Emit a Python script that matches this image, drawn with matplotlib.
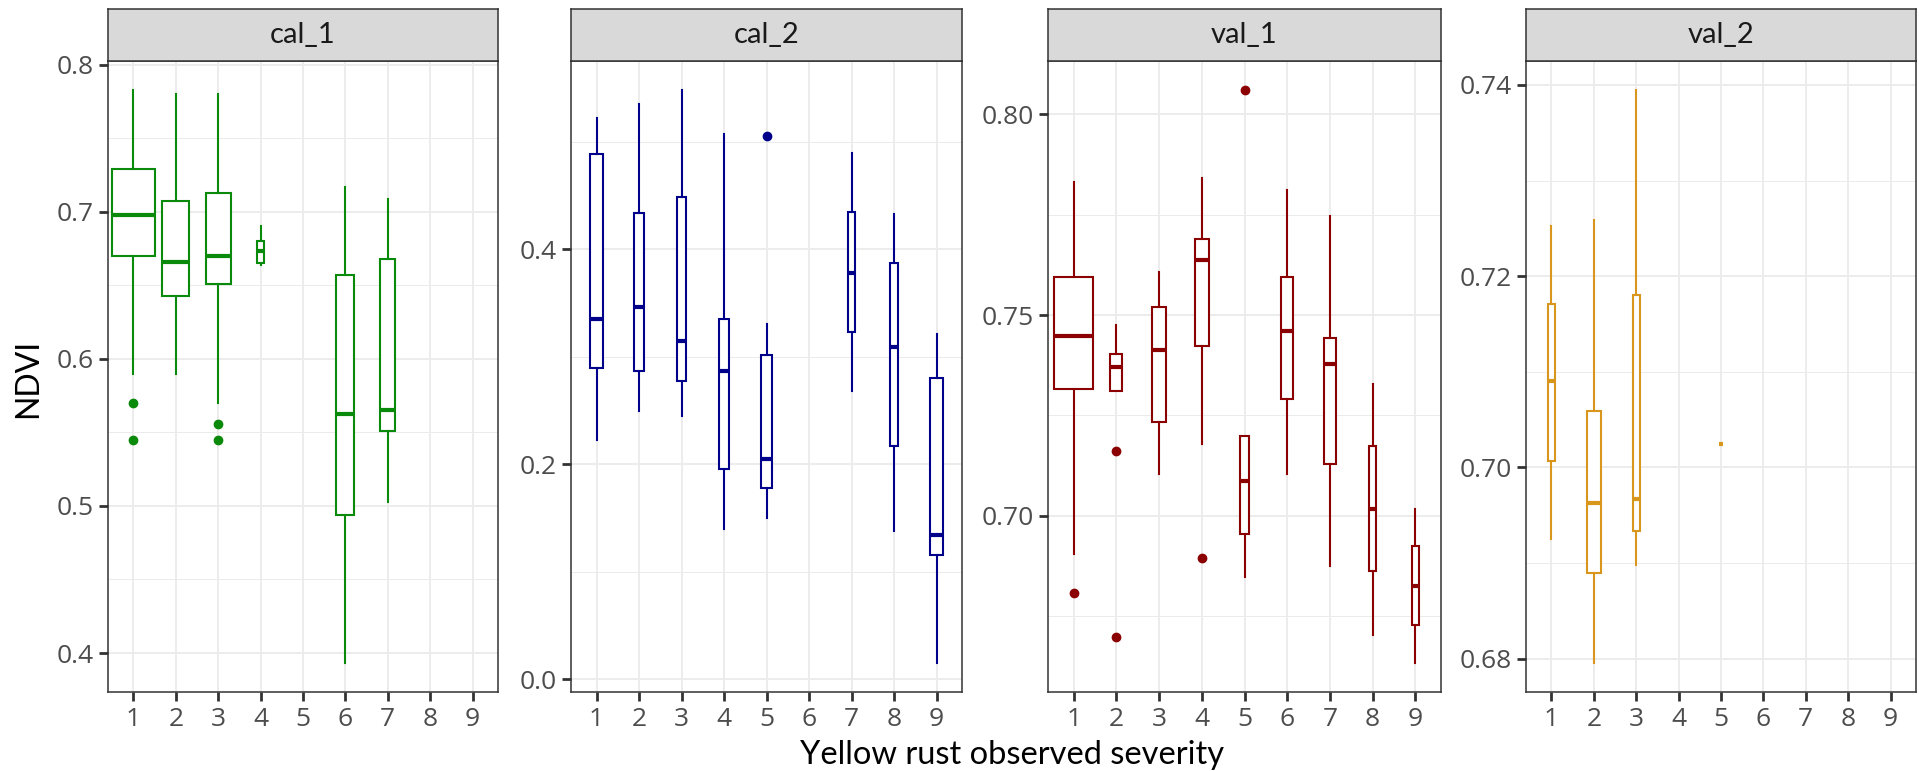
import matplotlib.pyplot as plt
import numpy as np
from matplotlib.ticker import MultipleLocator, FormatStrFormatter

plt.rcParams["font.family"] = ["Open Sans", "DejaVu Sans"]

severity = [1, 2, 3, 4, 5, 6, 7, 8, 9]
panels = ["cal_1", "cal_2", "val_1", "val_2"]
colors = ["#0A8A0A", "#00008B", "#8B0000", "#D8971C"]

# cal_1
cal1_sev = [1, 2, 3, 4, 6, 7]
cal1_lo = [0.590, 0.590, 0.570, 0.664, 0.393, 0.503]
cal1_q1 = [0.670, 0.643, 0.651, 0.665, 0.494, 0.551]
cal1_med = [0.698, 0.666, 0.670, 0.673, 0.5625, 0.565]
cal1_q3 = [0.729, 0.707, 0.713, 0.680, 0.657, 0.668]
cal1_hi = [0.783, 0.780, 0.780, 0.690, 0.717, 0.709]
cal1_n = [123, 49, 43, 4, 22, 16]
cal1_out = [[0.570, 0.545], [], [0.556, 0.5445], [], [], []]

# cal_2
cal2_sev = [1, 2, 3, 4, 5, 7, 8, 9]
cal2_lo = [0.223, 0.250, 0.245, 0.140, 0.150, 0.268, 0.1385, 0.015]
cal2_q1 = [0.290, 0.287, 0.278, 0.196, 0.178, 0.323, 0.217, 0.116]
cal2_med = [0.335, 0.3465, 0.315, 0.287, 0.205, 0.3785, 0.309, 0.134]
cal2_q3 = [0.489, 0.434, 0.4485, 0.335, 0.302, 0.435, 0.387, 0.280]
cal2_hi = [0.5225, 0.535, 0.5486, 0.507, 0.331, 0.490, 0.4325, 0.321]
cal2_n = [10, 8, 6, 8, 8, 3, 5, 11]
cal2_out = [[], [], [], [], [0.5056], [], [], []]

# val_1
val1_sev = [1, 2, 3, 4, 5, 6, 7, 8, 9]
val1_lo = [0.6905, 0.731, 0.7104, 0.718, 0.6847, 0.7104, 0.6875, 0.6704, 0.6633]
val1_q1 = [0.7316, 0.731, 0.7233, 0.7422, 0.6955, 0.7291, 0.7129, 0.6862, 0.6728]
val1_med = [0.7447, 0.737, 0.7414, 0.7636, 0.7086, 0.7461, 0.7379, 0.7016, 0.6826]
val1_q3 = [0.7594, 0.7404, 0.752, 0.7689, 0.720, 0.7594, 0.7443, 0.7174, 0.6924]
val1_hi = [0.7832, 0.7475, 0.7608, 0.7842, 0.720, 0.7812, 0.7747, 0.7328, 0.7018]
val1_n = [104, 10, 12, 14, 6, 9, 10, 3, 3]
val1_out = [[0.6807], [0.7162, 0.6698], [], [0.6896], [0.8061], [], [], [], []]

# val_2
val2_sev = [1, 2, 3, 5]
val2_lo = [0.6925, 0.6795, 0.6898, 0.7024]
val2_q1 = [0.7007, 0.6889, 0.6933, 0.7024]
val2_med = [0.709, 0.6963, 0.6967, 0.7024]
val2_q3 = [0.7171, 0.7059, 0.718, 0.7024]
val2_hi = [0.7252, 0.7259, 0.7395, 0.7024]
val2_n = [3, 14, 3, 1]
val2_out = [[], [], [], []]

data = [
    (cal1_sev, cal1_lo, cal1_q1, cal1_med, cal1_q3, cal1_hi, cal1_n, cal1_out),
    (cal2_sev, cal2_lo, cal2_q1, cal2_med, cal2_q3, cal2_hi, cal2_n, cal2_out),
    (val1_sev, val1_lo, val1_q1, val1_med, val1_q3, val1_hi, val1_n, val1_out),
    (val2_sev, val2_lo, val2_q1, val2_med, val2_q3, val2_hi, val2_n, val2_out),
]
y_steps = [0.1, 0.2, 0.05, 0.02]
y_fmt = ["%.1f", "%.1f", "%.2f", "%.2f"]

W, H = 1919, 771
panel_px = [(108, 498), (571, 962), (1048, 1441), (1526, 1916)]
p_top, p_bot, s_top = 61, 692, 9

fig = plt.figure(figsize=(W / 100, H / 100), dpi=100)

for i, (name, col) in enumerate(zip(panels, colors)):
    sev, lo, q1, med, q3, hi, n, out = data[i]
    l, r = panel_px[i]
    ax = fig.add_axes([l / W, (H - p_bot) / H, (r - l) / W, (p_bot - p_top) / H])

    stats = [
        dict(whislo=a, q1=b, med=c, q3=d, whishi=e, fliers=f)
        for a, b, c, d, e, f in zip(lo, q1, med, q3, hi, out)
    ]
    widths = 0.09 * np.sqrt(n)
    ax.bxp(
        stats,
        positions=sev,
        widths=widths,
        showcaps=False,
        patch_artist=True,
        manage_ticks=False,
        zorder=3,
        boxprops=dict(facecolor="white", edgecolor=col, linewidth=1.5),
        medianprops=dict(color=col, linewidth=3.0, solid_capstyle="butt"),
        whiskerprops=dict(color=col, linewidth=1.5),
        flierprops=dict(marker="o", markerfacecolor=col, markeredgecolor=col,
                        markersize=6, linestyle="none"),
    )

    # ggplot-style 5% expansion of the data range
    allv = list(lo) + list(hi) + [v for o in out for v in o]
    vmin, vmax = min(allv), max(allv)
    pad = 0.05 * (vmax - vmin)
    ax.set_ylim(vmin - pad, vmax + pad)
    ax.set_xlim(0.4, 9.6)
    ax.set_xticks(severity)
    ax.yaxis.set_major_locator(MultipleLocator(y_steps[i]))
    ax.yaxis.set_minor_locator(MultipleLocator(y_steps[i] / 2))
    ax.yaxis.set_major_formatter(FormatStrFormatter(y_fmt[i]))

    ax.set_axisbelow(True)
    ax.grid(which="major", color="#EBEBEB", linewidth=1.3)
    ax.grid(which="minor", axis="y", color="#EBEBEB", linewidth=0.7)
    for sp in ax.spines.values():
        sp.set_color("#333333")
        sp.set_linewidth(1.1)
    ax.tick_params(which="major", length=6.5, width=2.0, color="#333333",
                   labelcolor="#4D4D4D", labelsize=19, pad=4)
    ax.tick_params(which="minor", length=0)

    # facet strip
    sax = fig.add_axes([l / W, (H - p_top) / H, (r - l) / W, (p_top - s_top) / H])
    sax.set_facecolor("#D9D9D9")
    sax.set_xticks([])
    sax.set_yticks([])
    for sp in sax.spines.values():
        sp.set_color("#333333")
        sp.set_linewidth(1.1)
    sax.text(0.5, 0.5, name, ha="center", va="center", fontsize=21,
             color="#1A1A1A", family=["Lato", "DejaVu Sans"],
             transform=sax.transAxes)

fig.text(1012 / W, (H - 764) / H, "Yellow rust observed severity", ha="center",
         va="baseline", fontsize=23.5, family=["Lato", "DejaVu Sans"])
fig.text(28.6 / W, (H - 378) / H, "NDVI", rotation=90, ha="center", va="center",
         fontsize=23, family=["Lato", "DejaVu Sans"])

fig.savefig("out.png", dpi=100, facecolor="white")
